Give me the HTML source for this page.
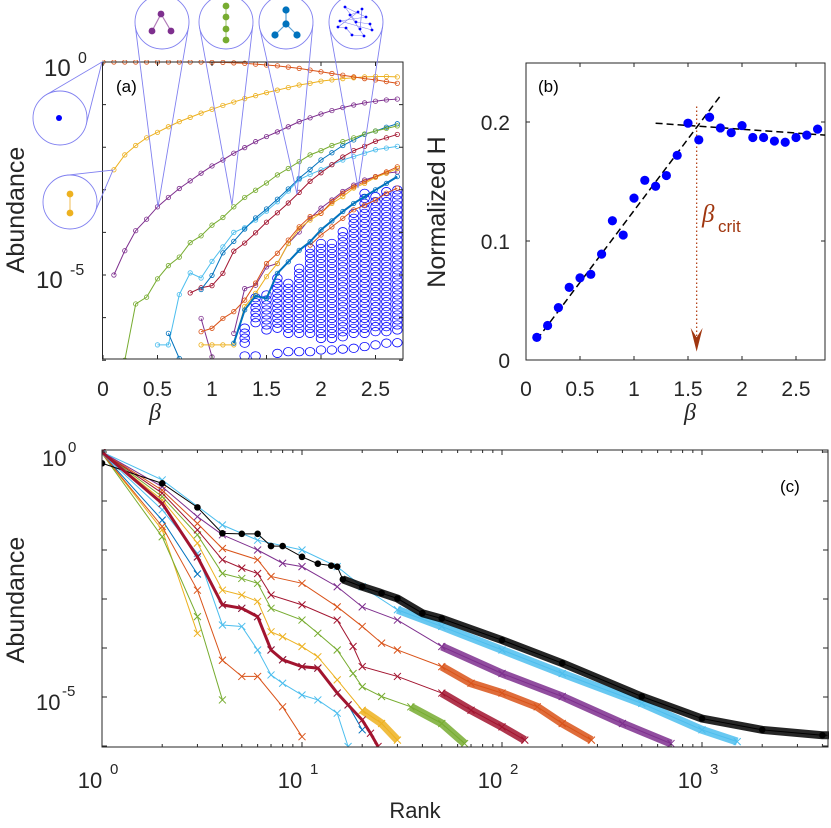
<!DOCTYPE html>
<html><head><meta charset="utf-8"><style>
html,body{margin:0;padding:0;background:#fff}
svg{display:block;font-family:"Liberation Sans",sans-serif}
</style></head><body>
<svg id="fig" width="831" height="828" viewBox="0 0 831 828" xmlns="http://www.w3.org/2000/svg">
<defs>
<clipPath id="clipA"><rect x="102" y="60" width="301" height="299"/></clipPath>
<clipPath id="clipC"><rect x="102" y="449" width="727" height="298"/></clipPath>
</defs>
<g id="pa"></g>
<g id="pb"></g>
<g id="pc"></g>
</svg>
<script>
// ---------- Panel (a) data: log10 abundance vs beta ----------
const betaA = [0,0.1,0.2,0.3,0.4,0.5,0.6,0.7,0.8,0.9,1.0,1.1,1.2,1.3,1.4,1.5,1.6,1.7,1.8,1.9,2.0,2.1,2.2,2.3,2.4,2.5,2.6,2.7];
const aMonomer = [0,0,0,0,0,0,0,0,0,0,-0.01,-0.01,-0.02,-0.03,-0.05,-0.07,-0.09,-0.12,-0.15,-0.19,-0.23,-0.27,-0.31,-0.35,-0.39,-0.42,-0.46,-0.50];
const aDimer = [null,-2.53,-2.18,-1.96,-1.78,-1.65,-1.52,-1.40,-1.30,-1.20,-1.11,-1.02,-0.94,-0.86,-0.79,-0.72,-0.66,-0.60,-0.54,-0.50,-0.45,-0.42,-0.39,-0.37,-0.35,-0.34,-0.34,-0.35];
const aTrimer = [null,-5.0,-4.43,-3.96,-3.69,-3.40,-3.18,-2.97,-2.79,-2.61,-2.44,-2.30,-2.14,-2.01,-1.87,-1.75,-1.64,-1.52,-1.40,-1.31,-1.22,-1.14,-1.07,-1.01,-0.96,-0.92,-0.89,-0.87];
const aChain = [null,null,-7.0,-5.68,-5.52,-5.09,-4.78,-4.58,-4.24,-4.08,-3.83,-3.65,-3.40,-3.18,-3.01,-2.84,-2.65,-2.50,-2.34,-2.18,-2.08,-1.96,-1.87,-1.78,-1.69,-1.62,-1.56,-1.50];
const aStar = [null,null,null,null,null,null,-6.37,-6.96,null,-5.34,-5.01,-4.48,-4.21,-3.92,-3.66,-3.45,-3.22,-2.98,-2.73,-2.52,-2.30,-2.13,-1.96,-1.83,-1.70,-1.62,-1.53,-1.45];
const aRed = [null,null,null,null,null,null,null,null,-5.42,-5.30,-5.25,-4.96,-4.44,-4.25,-4.01,-3.76,-3.54,-3.31,-3.06,-2.80,-2.60,-2.41,-2.23,-2.08,-1.98,-1.86,-1.78,-1.70];
const aCyan = [null,null,null,null,null,-6.64,-6.64,-5.46,-4.95,-5.07,-4.68,-4.34,-4.00,-3.89,-3.71,-3.50,-3.28,-3.03,-2.76,-2.64,-2.53,-2.41,-2.30,-2.22,-2.14,-2.06,-2.02,-1.98];
const aOrange2 = [null,null,null,null,null,null,null,null,null,-6.33,-6.25,-6.02,-5.86,-5.59,-5.19,-4.73,-4.49,-4.18,-3.87,-3.63,-3.55,-3.28,-3.08,-2.93,-2.81,-2.69,-2.58,-2.46];
const aYellow2 = [null,null,null,null,null,null,null,null,null,-6.64,-6.64,-6.64,-6.64,-5.74,-5.43,-5.04,-4.73,-4.26,-3.91,-3.71,-3.55,-3.32,-3.16,-2.96,-2.85,-2.71,-2.61,-2.50];
const aPurple2 = [null,null,null,null,null,null,null,null,null,-6.02,-6.92,null,-6.37,-5.32,-5.24,-4.81,-4.73,-4.26,-3.99,-3.67,-3.43,-3.24,-3.04,-2.89,-2.77,-2.69,-2.61,-2.58];
const aBlue2 = [null,null,null,null,null,null,null,null,null,null,null,null,-6.60,-5.82,-5.49,-5.55,-4.96,-4.69,-4.42,-4.22,-3.94,-3.73,-3.51,-3.32,-3.16,-3.00,-2.85,-2.69];
const aOrange3 = [null,null,null,null,null,null,null,null,null,null,null,null,null,null,null,null,null,null,null,-4.30,-4.06,-3.87,-3.67,-3.47,-3.36,-3.24,-3.08,-2.96];
// scatter of larger clusters (columns)
const scatBeta = [1.3,1.4,1.5,1.6,1.7,1.8,1.9,2.0,2.1,2.2,2.3,2.4,2.5,2.6,2.7];
const scatTop = [-6.17,-5.47,-5.47,-5.04,-5.16,-4.73,-4.35,-4.18,-4.18,-3.94,-3.55,-3.08,-3.16,-2.96,-3.00];
const scatBottom = [-6.60,-6.12,-6.29,-6.25,-6.37,-6.37,-6.37,-6.49,-6.49,-6.45,-6.37,-6.37,-6.33,-6.33,-6.29];
const scatLone = [-6.90,-6.90,null,-6.84,-6.80,-6.80,-6.80,-6.76,-6.76,-6.74,-6.72,-6.68,-6.64,-6.60,-6.59];

// ---------- Panel (b) data ----------
const betaB = [0.1,0.2,0.3,0.4,0.5,0.6,0.7,0.8,0.9,1.0,1.1,1.2,1.3,1.4,1.5,1.6,1.7,1.8,1.9,2.0,2.1,2.2,2.3,2.4,2.5,2.6,2.7];
const hB = [0.019,0.029,0.044,0.061,0.069,0.072,0.089,0.117,0.105,0.136,0.151,0.146,0.155,0.172,0.199,0.185,0.204,0.195,0.191,0.197,0.187,0.187,0.184,0.183,0.187,0.189,0.194];
const fit1 = [[0.1,0.017],[1.8,0.222]];
const fit2 = [[1.2,0.199],[2.77,0.189]];
const betaCrit = 1.58;

// ---------- Panel (c) data: rank, log10 abundance ----------
const c1r=[1,2,3], c1v=[-0.03,-1.39,-2.49];
const c2r=[1,2,3], c2v=[-0.03,-1.59,-3.70];
const c3r=[1,2,3,4], c3v=[-0.03,-1.73,-3.36,-5.06];
const c4r=[1,2,3,4,5,6,8,10], c4v=[-0.03,-1.52,-2.82,-4.25,-4.58,-4.58,-5.20,-5.81];
const c5r=[1,2,3,4,5,6,7,8,10,12,15,17], c5v=[-0.03,-1.18,-2.07,-3.53,-3.56,-4.04,-4.55,-4.72,-4.96,-5.06,-5.33,-6.01];
const c6r=[1,2,3,4,5,6,7,8,10,12,15,17,20], c6v=[0,-1.05,-2.14,-3.12,-3.19,-3.36,-4.04,-4.24,-4.38,-4.41,-4.92,-5.16,-5.67];
const c7r=[1,2,3,4,5,6,7,8,10,12,15,17,20,22,24], c7v=[0,-1.05,-2.14,-3.12,-3.19,-3.36,-4.04,-4.24,-4.38,-4.41,-4.92,-5.16,-5.47,-5.74,-6.01];
const c8r=[1,2,3,4,5,6,7,8,10,12,15,20,25,30], c8v=[0,-0.98,-1.86,-2.82,-2.92,-3.05,-3.67,-3.77,-3.97,-4.18,-4.65,-5.27,-5.54,-5.88];
const c9r=[1,2,3,4,5,6,7,10,12,15,18,20,25,35,50,65], c9v=[0,-0.91,-1.69,-2.48,-2.58,-2.68,-3.19,-3.43,-3.70,-4.04,-4.52,-4.79,-4.99,-5.20,-5.54,-5.95];
const c10r=[1,2,3,4,5,6,7,10,15,18,20,30,50,70,100,130], c10v=[0,-0.84,-1.59,-2.20,-2.37,-2.48,-2.92,-3.12,-3.43,-3.97,-4.38,-4.58,-4.92,-5.27,-5.61,-5.88];
const c11r=[1,2,3,4,6,7,10,15,20,25,30,50,70,100,150,200,280], c11v=[0,-0.78,-1.46,-1.97,-2.20,-2.54,-2.68,-3.16,-3.56,-3.90,-4.04,-4.38,-4.72,-4.92,-5.20,-5.54,-5.88];
const c12r=[1,2,3,4,6,8,10,15,20,30,50,100,200,400,700], c12v=[0,-0.71,-1.32,-1.69,-2.00,-2.27,-2.34,-2.75,-3.16,-3.43,-3.97,-4.52,-4.99,-5.54,-5.95];
const c13r=[1,2,4,6,10,15,20,30,50,100,200,500,1000,1500], c13v=[0,-0.57,-1.49,-1.80,-2.00,-2.34,-2.75,-3.22,-3.56,-4.04,-4.52,-5.13,-5.67,-5.91];
const cBr=[1,2,3,4,5,6,7,8,10,12,14,15,16,20,25,30,40,50,100,200,500,1000,2000,4000,4400];
const cBv=[-0.23,-0.64,-1.13,-1.66,-1.67,-1.67,-1.92,-1.92,-2.14,-2.28,-2.32,-2.34,-2.60,-2.75,-2.88,-2.99,-3.29,-3.40,-3.84,-4.31,-4.99,-5.44,-5.67,-5.78,-5.78];

// ---------- rendering ----------
const NS='http://www.w3.org/2000/svg';
function mk(parent,tag,attrs,name,inter){const e=document.createElementNS(NS,tag);for(const k in attrs)e.setAttribute(k,attrs[k]);


parent.appendChild(e);return e;}
function txt(parent,x,y,s,size,name,extra){const t=mk(parent,'text',Object.assign({x:x,y:y,'font-size':size,fill:'#262626'},extra||{}),name,false);t.textContent=s;return t;}
const C={blue:'#0072BD',orange:'#D95319',yellow:'#EDB120',purple:'#7E2F8E',green:'#77AC30',cyan:'#4DBEEE',red:'#A2142F'};

// Panel A
const pa=document.getElementById('pa');
const xA=b=>103+b*109, yA=l=>62-l*42.6;
function bubble(cx,cy,r,tx,ty,name){
  const g=mk(pa,'g',{},name,false);
  const d=Math.hypot(tx-cx,ty-cy), a=Math.atan2(ty-cy,tx-cx), off=Math.acos(Math.min(0.99,r/d));
  const p1=[cx+r*Math.cos(a+off),cy+r*Math.sin(a+off)], p2=[cx+r*Math.cos(a-off),cy+r*Math.sin(a-off)];
  mk(g,'path',{d:`M${p1[0]},${p1[1]}L${tx},${ty}L${p2[0]},${p2[1]}`,fill:'none',stroke:'#8080f0','stroke-width':0.9},'inset-pointer',false);
  mk(g,'circle',{cx:cx,cy:cy,r:r,fill:'#fff',stroke:'#8080f0','stroke-width':0.9},'inset-circle',false);
  return g;
}
const gb=mk(pa,'g',{'clip-path':'url(#clipA)'},'plot-area-a',false);
// scatter
scatBeta.forEach((b,i)=>{
  const top=yA(scatTop[i]), bot=yA(scatBottom[i]);
  for(let y=bot;y>=top-0.1;y-=5){mk(gb,'ellipse',{cx:xA(b),cy:y,rx:4.8,ry:4.2,fill:'none',stroke:'#0000ff','stroke-width':0.8},'cluster-marker',false);}
  if(scatLone[i]!==null) mk(gb,'ellipse',{cx:xA(b),cy:yA(scatLone[i]),rx:4.8,ry:4.2,fill:'none',stroke:'#0000ff','stroke-width':0.8},'cluster-marker',false);
});
function seriesA(vals,col,name,w){
  const g=mk(gb,'g',{},name,false);let d='';let pen=false;
  vals.forEach((v,i)=>{if(v===null){pen=false;return;}d+=(pen?'L':'M')+xA(betaA[i])+','+yA(v);pen=true;});
  mk(g,'path',{d:d,fill:'none',stroke:col,'stroke-width':w||1},name+'-line',false);
  vals.forEach((v,i)=>{if(v===null)return;mk(g,'circle',{cx:xA(betaA[i]),cy:yA(v),r:2.2,fill:'none',stroke:col,'stroke-width':0.8},name+'-point',false);});
}
seriesA(aOrange3,C.orange,'series-orange-3');
seriesA(aPurple2,C.purple,'series-purple-2');
seriesA(aYellow2,C.yellow,'series-yellow-2');
seriesA(aOrange2,C.orange,'series-orange-2');
seriesA(aCyan,C.cyan,'series-cyan');
seriesA(aRed,C.red,'series-red');
seriesA(aStar,C.blue,'series-star');
seriesA(aBlue2,C.blue,'series-blue-2',2);
seriesA(aChain,C.green,'series-chain');
seriesA(aTrimer,C.purple,'series-trimer');
seriesA(aDimer,C.yellow,'series-dimer');
seriesA(aMonomer,C.orange,'series-monomer');
// axes box & ticks
mk(pa,'rect',{x:102.5,y:62,width:300.5,height:297,fill:'none',stroke:'#262626','stroke-width':1},'axes-box-a',false);
[0,0.5,1,1.5,2,2.5].forEach(b=>{mk(pa,'path',{d:`M${xA(b)},359v-4M${xA(b)},62v4`,stroke:'#262626'},'x-tick-a',false);
 txt(pa,xA(b),396,String(b),21,'x-tick-label-a',{'text-anchor':'middle'});});
for(let l=0;l>=-7;l--){mk(pa,'path',{d:`M102,${yA(l)}h4M403,${yA(l)}h-4`,stroke:'#262626'},'y-tick-a',false);}
txt(pa,44,76,'10',24,'y-tick-label-a');txt(pa,78,63,'0',16,'y-tick-label-a-exp');
txt(pa,36,288,'10',24,'y-tick-label-a');txt(pa,70,275,'-5',16,'y-tick-label-a-exp');
txt(pa,116,92,'(a)',17,'panel-label-a',{fill:'#000'});
txt(pa,24,210,'Abundance',25,'y-axis-title-a',{'text-anchor':'middle',transform:'rotate(-90 24 210)'});
txt(pa,155,420,'β',24,'x-axis-title-a',{'text-anchor':'middle','font-family':'Liberation Serif,serif','font-style':'italic'});
// insets
let g1=bubble(60,118,27,102,62,'inset-monomer');mk(g1,'circle',{cx:59,cy:118,r:3,fill:'#0000ff'},'node',false);
let g2=bubble(70,202,27,113,170,'inset-dimer');mk(g2,'line',{x1:70,y1:194,x2:70,y2:213,stroke:'#f5d28c','stroke-width':1.5},'edge',false);
mk(g2,'circle',{cx:70,cy:194,r:3.4,fill:C.yellow},'node',false);mk(g2,'circle',{cx:70,cy:213,r:3.4,fill:C.yellow},'node',false);
let g3=bubble(162,22,27,158,207,'inset-trimer');mk(g3,'path',{d:'M161,14L152,31M161,14L171,31',stroke:'#b07ab8',fill:'none','stroke-width':1.2},'edge',false);
[[161,14],[152,31],[171,31]].forEach(p=>mk(g3,'circle',{cx:p[0],cy:p[1],r:3.4,fill:C.purple},'node',false));
let g4=bubble(226,22,27,232,205,'inset-chain');mk(g4,'line',{x1:226,y1:6,x2:226,y2:40,stroke:'#a8cc80','stroke-width':1.2},'edge',false);
[6,17,29,40].forEach(y=>mk(g4,'circle',{cx:226,cy:y,r:3.4,fill:C.green},'node',false));
let g5=bubble(286,22,27,297,194,'inset-star');mk(g5,'path',{d:'M286,10V24L275,35M286,24L297,35',stroke:'#5aa0d6',fill:'none','stroke-width':1.2},'edge',false);
[[286,10],[286,24],[275,35],[297,35]].forEach(p=>mk(g5,'circle',{cx:p[0],cy:p[1],r:3.6,fill:C.blue},'node',false));
let g6=bubble(356,22,27,358,188,'inset-network');
const nodes=[[345,7],[362,9],[350,15],[366,17],[340,21],[356,22],[370,24],[346,28],[360,29],[372,30],[352,35],[364,36],[338,27],[358,12]];
nodes.forEach((p,i)=>{const q=nodes[(i*5+3)%nodes.length];mk(g6,'line',{x1:p[0],y1:p[1],x2:q[0],y2:q[1],stroke:'#8080f0','stroke-width':0.6},'edge',false);});
nodes.forEach(p=>mk(g6,'circle',{cx:p[0],cy:p[1],r:1.4,fill:'#0000ff'},'node',false));

// Panel B
const pb=document.getElementById('pb');
const xB=b=>526+b*108, yB=v=>360-v*1190;
mk(pb,'rect',{x:526,y:63,width:299,height:297,fill:'none',stroke:'#262626'},'axes-box-b',false);
[0,0.5,1,1.5,2,2.5].forEach(b=>{mk(pb,'path',{d:`M${xB(b)},360v-4M${xB(b)},63v4`,stroke:'#262626'},'x-tick-b',false);
 txt(pb,xB(b),396,String(b),21,'x-tick-label-b',{'text-anchor':'middle'});});
[0,0.1,0.2].forEach(v=>{mk(pb,'path',{d:`M526,${yB(v)}h4M825,${yB(v)}h-4`,stroke:'#262626'},'y-tick-b',false);
 txt(pb,510,yB(v)+8,String(v),21,'y-tick-label-b',{'text-anchor':'end'});});
txt(pb,538,92,'(b)',17,'panel-label-b',{fill:'#000'});
txt(pb,445,212,'Normalized H',25,'y-axis-title-b',{'text-anchor':'middle',transform:'rotate(-90 445 212)'});
txt(pb,690,420,'β',24,'x-axis-title-b',{'text-anchor':'middle','font-family':'Liberation Serif,serif','font-style':'italic'});
mk(pb,'line',{x1:xB(betaCrit),y1:yB(0.213),x2:xB(betaCrit),y2:yB(0.012),stroke:'#b5451b','stroke-width':1.3,'stroke-dasharray':'1.5,2.5'},'beta-crit-line',false);
mk(pb,'path',{d:`M${xB(betaCrit)-6},${yB(0.027)}L${xB(betaCrit)},${yB(0.007)}L${xB(betaCrit)+6},${yB(0.027)}L${xB(betaCrit)},${yB(0.019)}Z`,fill:'#a0360f'},'beta-crit-arrow',false);
txt(pb,702,222,'β',25,'beta-crit-label',{fill:'#a0360f','font-family':'Liberation Serif,serif','font-style':'italic'});
txt(pb,718,232,'crit',17,'beta-crit-subscript',{fill:'#a0360f'});
[fit1,fit2].forEach((f,i)=>mk(pb,'line',{x1:xB(f[0][0]),y1:yB(f[0][1]),x2:xB(f[1][0]),y2:yB(f[1][1]),stroke:'#000','stroke-width':1.5,'stroke-dasharray':'7,4'},'fit-line-'+(i+1),false));
betaB.forEach((b,i)=>mk(pb,'circle',{cx:xB(b),cy:yB(hB[i]),r:4.6,fill:'#0000ff'},'h-point',false));

// Panel C
const pc=document.getElementById('pc');
const xC=r=>102+Math.log10(r)*200, yC=l=>452-l*49;
const gc=mk(pc,'g',{'clip-path':'url(#clipC)'},'plot-area-c',false);
function seriesC(rs,vs,col,name,dense,w){
  const g=mk(gc,'g',{},name,false);
  const d=rs.map((r,i)=>(i?'L':'M')+xC(r)+','+yC(vs[i])).join('');
  mk(g,'path',{d:d,fill:'none',stroke:col,'stroke-width':w||1},name+'-line',false);
  if(dense){const i0=rs.findIndex(r=>r>=dense);const dd=rs.slice(i0).map((r,j)=>(j?'L':'M')+xC(r)+','+yC(vs[i0+j])).join('');
    mk(g,'path',{d:dd,fill:'none',stroke:col,'stroke-width':8,'stroke-linejoin':'round',opacity:0.85},name+'-band',false);}
  rs.forEach((r,i)=>{const x=xC(r),y=yC(vs[i]);
    if(col==='#000'){mk(g,'circle',{cx:x,cy:y,r:3.3,fill:'#000'},name+'-point',false);}
    else mk(g,'path',{d:`M${x-3.5},${y-3.5}L${x+3.5},${y+3.5}M${x-3.5},${y+3.5}L${x+3.5},${y-3.5}`,stroke:col,'stroke-width':1},name+'-point',false);});
}
seriesC(c1r,c1v,C.blue,'rank-series-1');
seriesC(c2r,c2v,C.yellow,'rank-series-2');
seriesC(c3r,c3v,C.green,'rank-series-3');
seriesC(c4r,c4v,C.orange,'rank-series-4');
seriesC(c5r,c5v,C.cyan,'rank-series-5');
seriesC(c6r,c6v,C.blue,'rank-series-6');
seriesC(c8r,c8v,C.yellow,'rank-series-8',20);
seriesC(c9r,c9v,C.green,'rank-series-9',35);
seriesC(c10r,c10v,C.red,'rank-series-10',40);
seriesC(c11r,c11v,C.orange,'rank-series-11',50);
seriesC(c12r,c12v,C.purple,'rank-series-12',40);
seriesC(c13r,c13v,C.cyan,'rank-series-13',30);
seriesC(cBr,cBv,'#000','rank-series-black',16,1);
seriesC(c7r,c7v,C.red,'rank-series-7',null,3);
mk(pc,'rect',{x:102,y:450,width:726,height:297,fill:'none',stroke:'#262626'},'axes-box-c',false);
for(let e=0;e<=3;e++){for(let m=1;m<=9;m++){const r=m*Math.pow(10,e);if(r>4300)break;const len=m===1?5:3;
 mk(pc,'path',{d:`M${xC(r)},747v-${len}M${xC(r)},450v${len}`,stroke:'#262626'},'x-tick-c',false);}}
[0,1,2,3].forEach(e=>{txt(pc,xC(Math.pow(10,e))-12,788,'10',22,'x-tick-label-c',{'text-anchor':'middle'});txt(pc,xC(Math.pow(10,e))+8,774,String(e),15,'x-tick-label-c-exp');});
for(let l=0;l>=-6;l--){mk(pc,'path',{d:`M102,${yC(l)}h5M828,${yC(l)}h-5`,stroke:'#262626'},'y-tick-c',false);}
txt(pc,42,466,'10',22,'y-tick-label-c');txt(pc,68,452,'0',15,'y-tick-label-c-exp');
txt(pc,36,710,'10',22,'y-tick-label-c');txt(pc,62,696,'-5',15,'y-tick-label-c-exp');
txt(pc,780,492,'(c)',17,'panel-label-c',{fill:'#000'});
txt(pc,415,818,'Rank',22,'x-axis-title-c',{'text-anchor':'middle'});
txt(pc,24,600,'Abundance',25,'y-axis-title-c',{'text-anchor':'middle',transform:'rotate(-90 24 600)'});
</script>
</body></html>
